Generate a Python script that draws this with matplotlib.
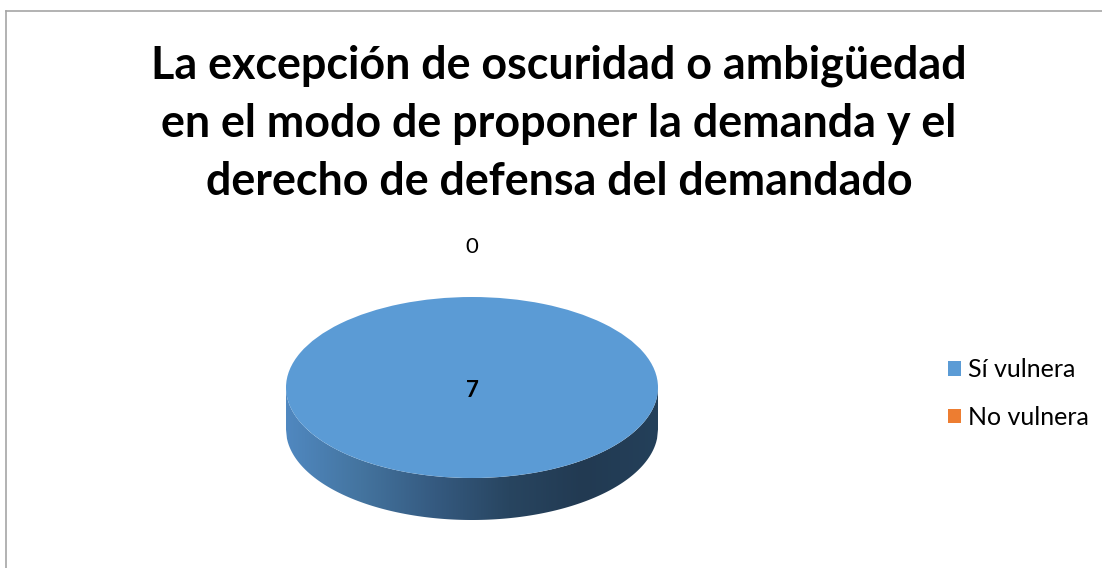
import numpy as np
import matplotlib
matplotlib.use("Agg")
import matplotlib.pyplot as plt
from matplotlib.colors import LinearSegmentedColormap
from matplotlib.patches import Polygon
from matplotlib.lines import Line2D

title = "La excepción de oscuridad o ambigüedad\nen el modo de proponer la demanda y el\nderecho de defensa del demandado"
categories = ["Sí vulnera", "No vulnera"]
values = [7, 0]
colors = ["#5B9BD5", "#ED7D31"]

plt.rcParams['font.family'] = ['Lato', 'DejaVu Sans']

W, H = 1102, 568
fig = plt.figure(figsize=(W / 100, H / 100), dpi=100)

# chart border (top and left visible)
fig.add_artist(Line2D([6 / W, 6 / W], [0, 1 - 11 / H], color="#a6a6a6", lw=1.2))
fig.add_artist(Line2D([6 / W, 1], [1 - 11 / H, 1 - 11 / H], color="#a6a6a6", lw=1.2))

fig.text(559 / W, 1 - 124 / H, title, ha="center", va="center", fontsize=32.3,
         fontweight="bold", linespacing=1.47, color="black")

# axes: data unit circle -> pixel ellipse
ylo, yhi = -1.6, 1.0
px_per_y = 90.5
ax_h = (yhi - ylo) * px_per_y
ax_top = 297 - (yhi - 1.0) * px_per_y
ax = fig.add_axes([286 / W, 1 - (ax_top + ax_h) / H, 372 / W, ax_h / H])

depth = 42 / px_per_y

wedges, texts = ax.pie(values, colors=colors, startangle=90, counterclock=False,
                       labels=["", str(values[1])], labeldistance=1.55,
                       textprops=dict(fontsize=16, color="black"),
                       wedgeprops=dict(linewidth=0), radius=1.0)
for t in texts:
    t.set_ha("center")
    t.set_family(['Lato', 'DejaVu Sans'])
for w in wedges:
    w.set_zorder(3)

# side of the 3D disc
xs = np.linspace(-1, 1, 400)
upper = -np.sqrt(np.clip(1 - xs ** 2, 0, None))
lower = upper - depth
pts = np.vstack([np.column_stack([xs, upper]),
                 [[1, 0], [1, -depth]],
                 np.column_stack([xs[::-1], lower[::-1]]),
                 [[-1, -depth], [-1, 0]]])
side = Polygon(pts, closed=True, facecolor="none", edgecolor="none",
               transform=ax.transData)
ax.add_patch(side)
cmap = LinearSegmentedColormap.from_list(
    "side", ["#5088c0", "#44749f", "#355a80", "#284560", "#223a52", "#24405a"])
grad = np.linspace(0, 1, 256).reshape(1, -1)
im = ax.imshow(grad, cmap=cmap, extent=(-1, 1, -1 - depth, 0), aspect="auto",
               zorder=2, interpolation="bilinear")
im.set_clip_path(side)

ax.set_aspect("auto")
ax.set_xlim(-1, 1)
ax.set_ylim(ylo, yhi)
ax.axis("off")

ax.text(0, -0.03, str(values[0]), ha="center", va="center", fontsize=16,
        fontweight="bold", color="black", zorder=5)

fig.legend(wedges, categories, loc="center left",
           bbox_to_anchor=(948 / W, 1 - 393.5 / H), frameon=False,
           fontsize=18, handlelength=0.5, handleheight=0.5,
           handletextpad=0.3, labelspacing=0.98, borderpad=0, borderaxespad=0)

fig.savefig("out.png", dpi=100, facecolor="white")
